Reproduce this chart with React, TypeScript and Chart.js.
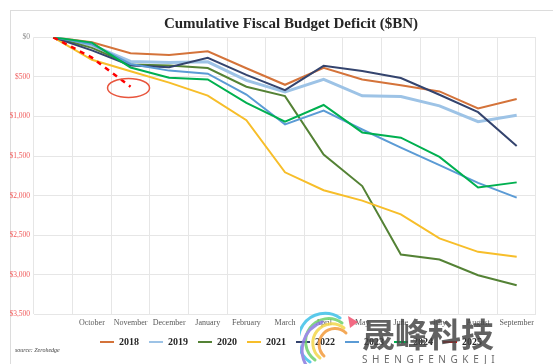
import React, { useEffect, useRef } from "react";
import { Chart, registerables } from "chart.js";

Chart.register(...registerables);

// ---- data ----
const months = ["", "October", "November", "December", "January", "February", "March", "April", "May", "June", "July", "August", "September"];
const yearLabels = ["2018", "2019", "2020", "2021", "2022", "2023", "2024", "2025"];
const fy2018 = [0, 63, 202, 225, 176, 391, 600, 385, 532, 607, 684, 898, 779];
const fy2019 = [0, 100, 305, 319, 310, 544, 691, 531, 739, 747, 867, 1067, 984];
const fy2020 = [0, 134, 343, 357, 389, 624, 743, 1481, 1880, 2744, 2807, 3007, 3132];
const fy2021 = [0, 284, 429, 573, 736, 1047, 1706, 1932, 2064, 2238, 2540, 2711, 2772];
const fy2022 = [0, 165, 357, 378, 259, 475, 668, 360, 426, 515, 726, 946, 1375];
const fy2023 = [0, 88, 337, 421, 460, 723, 1100, 925, 1165, 1393, 1614, 1840, 2025];
const fy2024 = [0, 67, 381, 510, 532, 828, 1065, 855, 1202, 1268, 1512, 1897, 1833];
const fy2025 = [0, 257, 624, null, null, null, null, null, null, null, null, null, null];
const yTicks = [0, 500, 1000, 1500, 2000, 2500, 3000, 3500];
const noteIndex = 2; // November 2025 highlighted
const noteValue = 640;

const seriesData = [fy2018, fy2019, fy2020, fy2021, fy2022, fy2023, fy2024, fy2025];

// ---- styles ----
const seriesColors = ["#D4733A", "#9DC3E6", "#548235", "#F7BE2A", "#34446E", "#5B9BD5", "#00B050", "#FF0000"];
const seriesWidths = [2, 3, 2, 2, 2, 2, 2, 2.5];
const serif = "'Liberation Serif', 'Times New Roman', serif";

export default function App() {
  const ref = useRef<HTMLCanvasElement>(null);

  useEffect(() => {
    if (!ref.current) return;
    const ellipsePlugin = {
      id: "ellipseNote",
      afterDatasetsDraw(chart: any) {
        const x = chart.scales.x.getPixelForValue(noteIndex) - 2;
        const y = chart.scales.y.getPixelForValue(noteValue);
        const c = chart.ctx;
        c.save();
        c.beginPath();
        c.ellipse(x, y, 21, 9.5, 0, 0, Math.PI * 2);
        c.strokeStyle = "#E8553D";
        c.lineWidth = 1.5;
        c.stroke();
        c.restore();
      },
    };

    const n = seriesData.length;
    const chart = new Chart(ref.current, {
      type: "line",
      data: {
        labels: months,
        datasets: seriesData.map((d, i) => ({
          label: yearLabels[i],
          data: d,
          borderColor: seriesColors[i],
          backgroundColor: seriesColors[i],
          borderWidth: seriesWidths[i],
          borderDash: i === n - 1 ? [5, 5] : [],
          pointRadius: 0,
          pointHoverRadius: 0,
          tension: 0,
          fill: false,
          spanGaps: false,
          order: n - i,
        })),
      },
      options: {
        responsive: false,
        animation: false,
        devicePixelRatio: 1,
        layout: { padding: { left: 10, right: 0, top: 0, bottom: 7 } },
        plugins: {
          tooltip: { enabled: false },
          title: {
            display: true,
            text: "Cumulative Fiscal Budget Deficit ($BN)",
            color: "#262626",
            font: { family: serif, size: 15, weight: "bold" },
            padding: { top: 15, bottom: 4.3 },
          },
          legend: {
            position: "bottom",
            labels: {
              color: "#262626",
              font: { family: serif, size: 10, weight: "bold" },
              boxWidth: 14,
              boxHeight: 2,
              padding: 10,
              sort: (a: any, b: any) => a.datasetIndex - b.datasetIndex,
              generateLabels: (ch: any) =>
                (Chart.defaults.plugins.legend.labels as any)
                  .generateLabels(ch)
                  .map((l: any) => ({ ...l, fillStyle: l.strokeStyle, lineWidth: 0, lineDash: [] })),
            },
          },
        },
        scales: {
          x: {
            type: "category",
            offset: true,
            grid: { display: true, offset: true, color: "#E6E6E6", drawTicks: false },
            border: { display: false },
            ticks: {
              autoSkip: false,
              maxRotation: 0,
              padding: 4,
              color: "#595959",
              font: { family: serif, size: 8 },
            },
            afterFit: (s: any) => {
              s.height = 12.7;
            },
          },
          y: {
            type: "linear",
            position: "left",
            reverse: true,
            min: 0,
            max: 3500,
            afterBuildTicks: (s: any) => {
              s.ticks = yTicks.map((v) => ({ value: v }));
            },
            grid: { color: "#E6E6E6", drawTicks: false },
            border: { display: false },
            ticks: {
              padding: 4,
              font: { family: serif, size: 7.5 },
              color: (c: any) => (c.tick && c.tick.value === 0 ? "#8C8C8C" : "#F05A5A"),
              callback: (v: any) => "$" + Number(v).toLocaleString("en-US"),
            },
            afterFit: (s: any) => {
              s.width = 24;
            },
          },
          yRight: {
            type: "linear",
            position: "right",
            display: true,
            grid: { display: false },
            border: { display: false },
            ticks: { display: false },
            afterFit: (s: any) => {
              s.width = 36;
            },
          },
        },
      },
      plugins: [ellipsePlugin],
    } as any);
    return () => chart.destroy();
  }, []);

  return (
    <div style={{ position: "fixed", left: 0, top: 0, width: 553, height: 364, overflow: "hidden", background: "#fff" }}>
      <div style={{ position: "absolute", left: 10, top: 10, width: 600, height: 400, border: "1px solid #DCDCDC" }} />
      <canvas ref={ref} width={572} height={364} style={{ position: "absolute", left: 0, top: 0, width: 572, height: 364 }} />
      <div style={{ position: "absolute", left: 15, top: 347, fontFamily: serif, fontStyle: "italic", fontSize: 6, color: "#404040", whiteSpace: "nowrap" }}>
        source: Zerohedge
      </div>
      <svg width={60} height={60} style={{ position: "absolute", left: 300, top: 310, pointerEvents: "none" }}>
        <g fill="none" strokeWidth={3} strokeLinecap="round" opacity={0.85}>
          <path d="M10 52 A26 26 0 0 1 40 8" stroke="#3FC1E8" />
          <path d="M15 50 A22 22 0 0 1 42 13" stroke="#6FD16A" />
          <path d="M20 48 A18 18 0 0 1 44 18" stroke="#F2D64B" />
          <path d="M24 46 A14 14 0 0 1 46 23" stroke="#F29A3B" />
          <path d="M8 58 A30 30 0 0 1 22 12" stroke="#8A7BE0" />
          <path d="M48 6 L58 12 L50 18 Z" fill="#F0506E" stroke="none" />
        </g>
      </svg>
      <div style={{ position: "absolute", left: 362, top: 309, fontFamily: "'Noto Sans CJK SC', sans-serif", fontWeight: 700, fontSize: 33, color: "rgba(70,70,70,0.85)", whiteSpace: "nowrap", pointerEvents: "none" }}>
        晟峰科技
      </div>
      <div style={{ position: "absolute", left: 362, top: 352, fontFamily: "'Noto Sans', sans-serif", fontSize: 10, letterSpacing: 4.6, color: "rgba(90,90,90,0.9)", whiteSpace: "nowrap", pointerEvents: "none" }}>
        SHENGFENGKEJI
      </div>
    </div>
  );
}
